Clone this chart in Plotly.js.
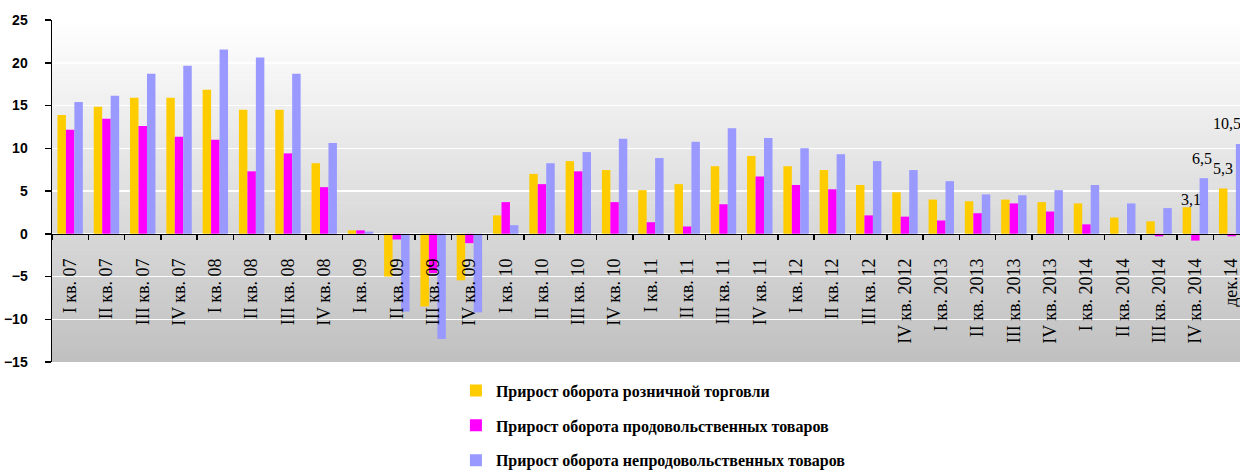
<!DOCTYPE html>
<html>
<head>
<meta charset="utf-8">
<script src="https://cdn.plot.ly/plotly-3.0.1.min.js"></script>
<style>
  html, body { margin: 0; padding: 0; background: #ffffff; }
  #chart { width: 1240px; height: 470px; }
</style>
</head>
<body>
<div id="chart"></div>
<script>
const categories = ['I кв. 07','II кв. 07','III кв. 07','IV кв. 07','I кв. 08','II кв. 08','III кв. 08','IV кв. 08',
  'I кв. 09','II кв. 09','III кв. 09','IV кв. 09','I кв. 10','II кв. 10','III кв. 10','IV кв. 10',
  'I кв. 11','II кв. 11','III кв. 11','IV кв. 11','I кв. 12','II кв. 12','III кв. 12','IV кв. 2012',
  'I кв. 2013','II кв. 2013','III кв. 2013','IV кв. 2013','I кв. 2014','II кв. 2014','III кв. 2014','IV кв. 2014','дек.14'];

const retail  = [13.9,14.85,15.9,15.9,16.85,14.5,14.5,8.25,0.4,-5.0,-8.5,-5.45,2.15,7.0,8.5,7.45,5.1,5.8,7.9,9.1,7.9,7.45,5.7,4.85,4.0,3.8,4.0,3.7,3.55,1.9,1.45,3.1,5.3];
const food    = [12.15,13.45,12.6,11.35,11.0,7.3,9.4,5.45,0.4,-0.67,-4.6,-1.1,3.7,5.8,7.3,3.7,1.35,0.85,3.45,6.7,5.7,5.2,2.15,2.0,1.55,2.4,3.55,2.6,1.1,0,-0.3,-0.8,-0.3];
const nonfood = [15.4,16.15,18.7,19.65,21.55,20.6,18.7,10.6,0.25,-9.1,-12.3,-9.2,1.0,8.25,9.55,11.1,8.85,10.75,12.35,11.2,10.0,9.3,8.5,7.45,6.15,4.6,4.5,5.1,5.7,3.55,3.0,6.5,10.5];

const seriesNames = ['Прирост оборота розничной торговли','Прирост оборота продовольственных товаров','Прирост оборота непродовольственных товаров'];
const seriesColors = ['#FFCC00','#FF00FF','#9999FF'];

// data labels: [series index, category index]
const labelPoints = [[0,31],[2,31],[0,32],[2,32]];
// label style offsets relative to the bar centre (pixels)
const labelShift = [[4,8],[-1.5,20],[0,20],[-13,20]];

const seriesData = [retail, food, nonfood];
const traces = seriesData.map((vals, k) => ({
  type: 'bar',
  name: seriesNames[k],
  x: categories,
  y: vals,
  marker: { color: seriesColors[k], line: { width: 0 } },
  legendgroup: 'g' + k,
  hoverinfo: 'skip'
}));

const barOffsetPx = [-8.5, 0, 8.5];
const annotations = labelPoints.map((p, i) => ({
  x: categories[p[1]],
  y: seriesData[p[0]][p[1]],
  xref: 'x', yref: 'y',
  text: seriesData[p[0]][p[1]].toFixed(1).replace('.', ','),
  showarrow: false,
  xanchor: 'center', yanchor: 'middle',
  xshift: barOffsetPx[p[0]] + labelShift[i][0],
  yshift: labelShift[i][1],
  font: { family: 'Liberation Serif, serif', size: 16, color: '#000' }
}));

// vertical gradient background of the plot area (style only)
const shapes = [];
const bands = 80;
for (let i = 0; i < bands; i++) {
  const t0 = i / bands, t1 = (i + 1) / bands;
  const c = Math.round(192 + (255 - 192) * ((t0 + t1) / 2));
  shapes.push({
    type: 'rect', xref: 'paper', yref: 'paper', layer: 'below',
    x0: 0, x1: 1, y0: t0, y1: t1 + 0.002,
    fillcolor: `rgb(${c},${c},${c})`, line: { width: 0 }
  });
}

const layout = {
  width: 1240, height: 470,
  margin: { l: 52, r: 0, t: 20, b: 108 },
  paper_bgcolor: '#ffffff',
  plot_bgcolor: 'rgba(0,0,0,0)',
  font: { family: 'Liberation Serif, serif', size: 15, color: '#000' },
  barmode: 'group',
  bargap: 0.3,
  bargroupgap: 0,
  showlegend: true,
  legend: {
    x: 0.340, xanchor: 'left', xref: 'paper',
    y: 0.205, yanchor: 'top', yref: 'container',
    orientation: 'v',
    tracegroupgap: 11,
    font: { family: 'Liberation Serif, serif', size: 16, color: '#000', weight: 'bold' },
    bgcolor: 'rgba(0,0,0,0)',
    itemwidth: 30
  },
  xaxis: {
    type: 'category',
    range: [-0.5, 32.23],
    anchor: 'free',
    position: 0.375,
    showline: true, linecolor: '#000', linewidth: 1.5,
    ticks: 'outside', tickson: 'boundaries', ticklen: 5, tickcolor: '#000', tickwidth: 1.5,
    tickangle: -90,
    ticklabelstandoff: 16,
    tickfont: { family: 'Liberation Serif, serif', size: 18, color: '#000' },
    showgrid: false,
    zeroline: false,
    automargin: false,
    fixedrange: true
  },
  yaxis: {
    range: [-15, 25],
    dtick: 5,
    tick0: 0,
    showline: true, linecolor: '#000', linewidth: 1.5,
    ticks: 'outside', ticklen: 6, tickcolor: '#000', tickwidth: 1.5,
    ticklabelstandoff: 14,
    tickfont: { family: 'Liberation Sans, Arial, sans-serif', size: 14, color: '#000', weight: 'bold' },
    showgrid: true, gridcolor: '#ffffff', gridwidth: 1.5,
    zeroline: false,
    automargin: false,
    fixedrange: true
  },
  shapes: shapes,
  annotations: annotations
};

Plotly.newPlot('chart', traces, layout, { staticPlot: true, displayModeBar: false });
</script>
</body>
</html>
